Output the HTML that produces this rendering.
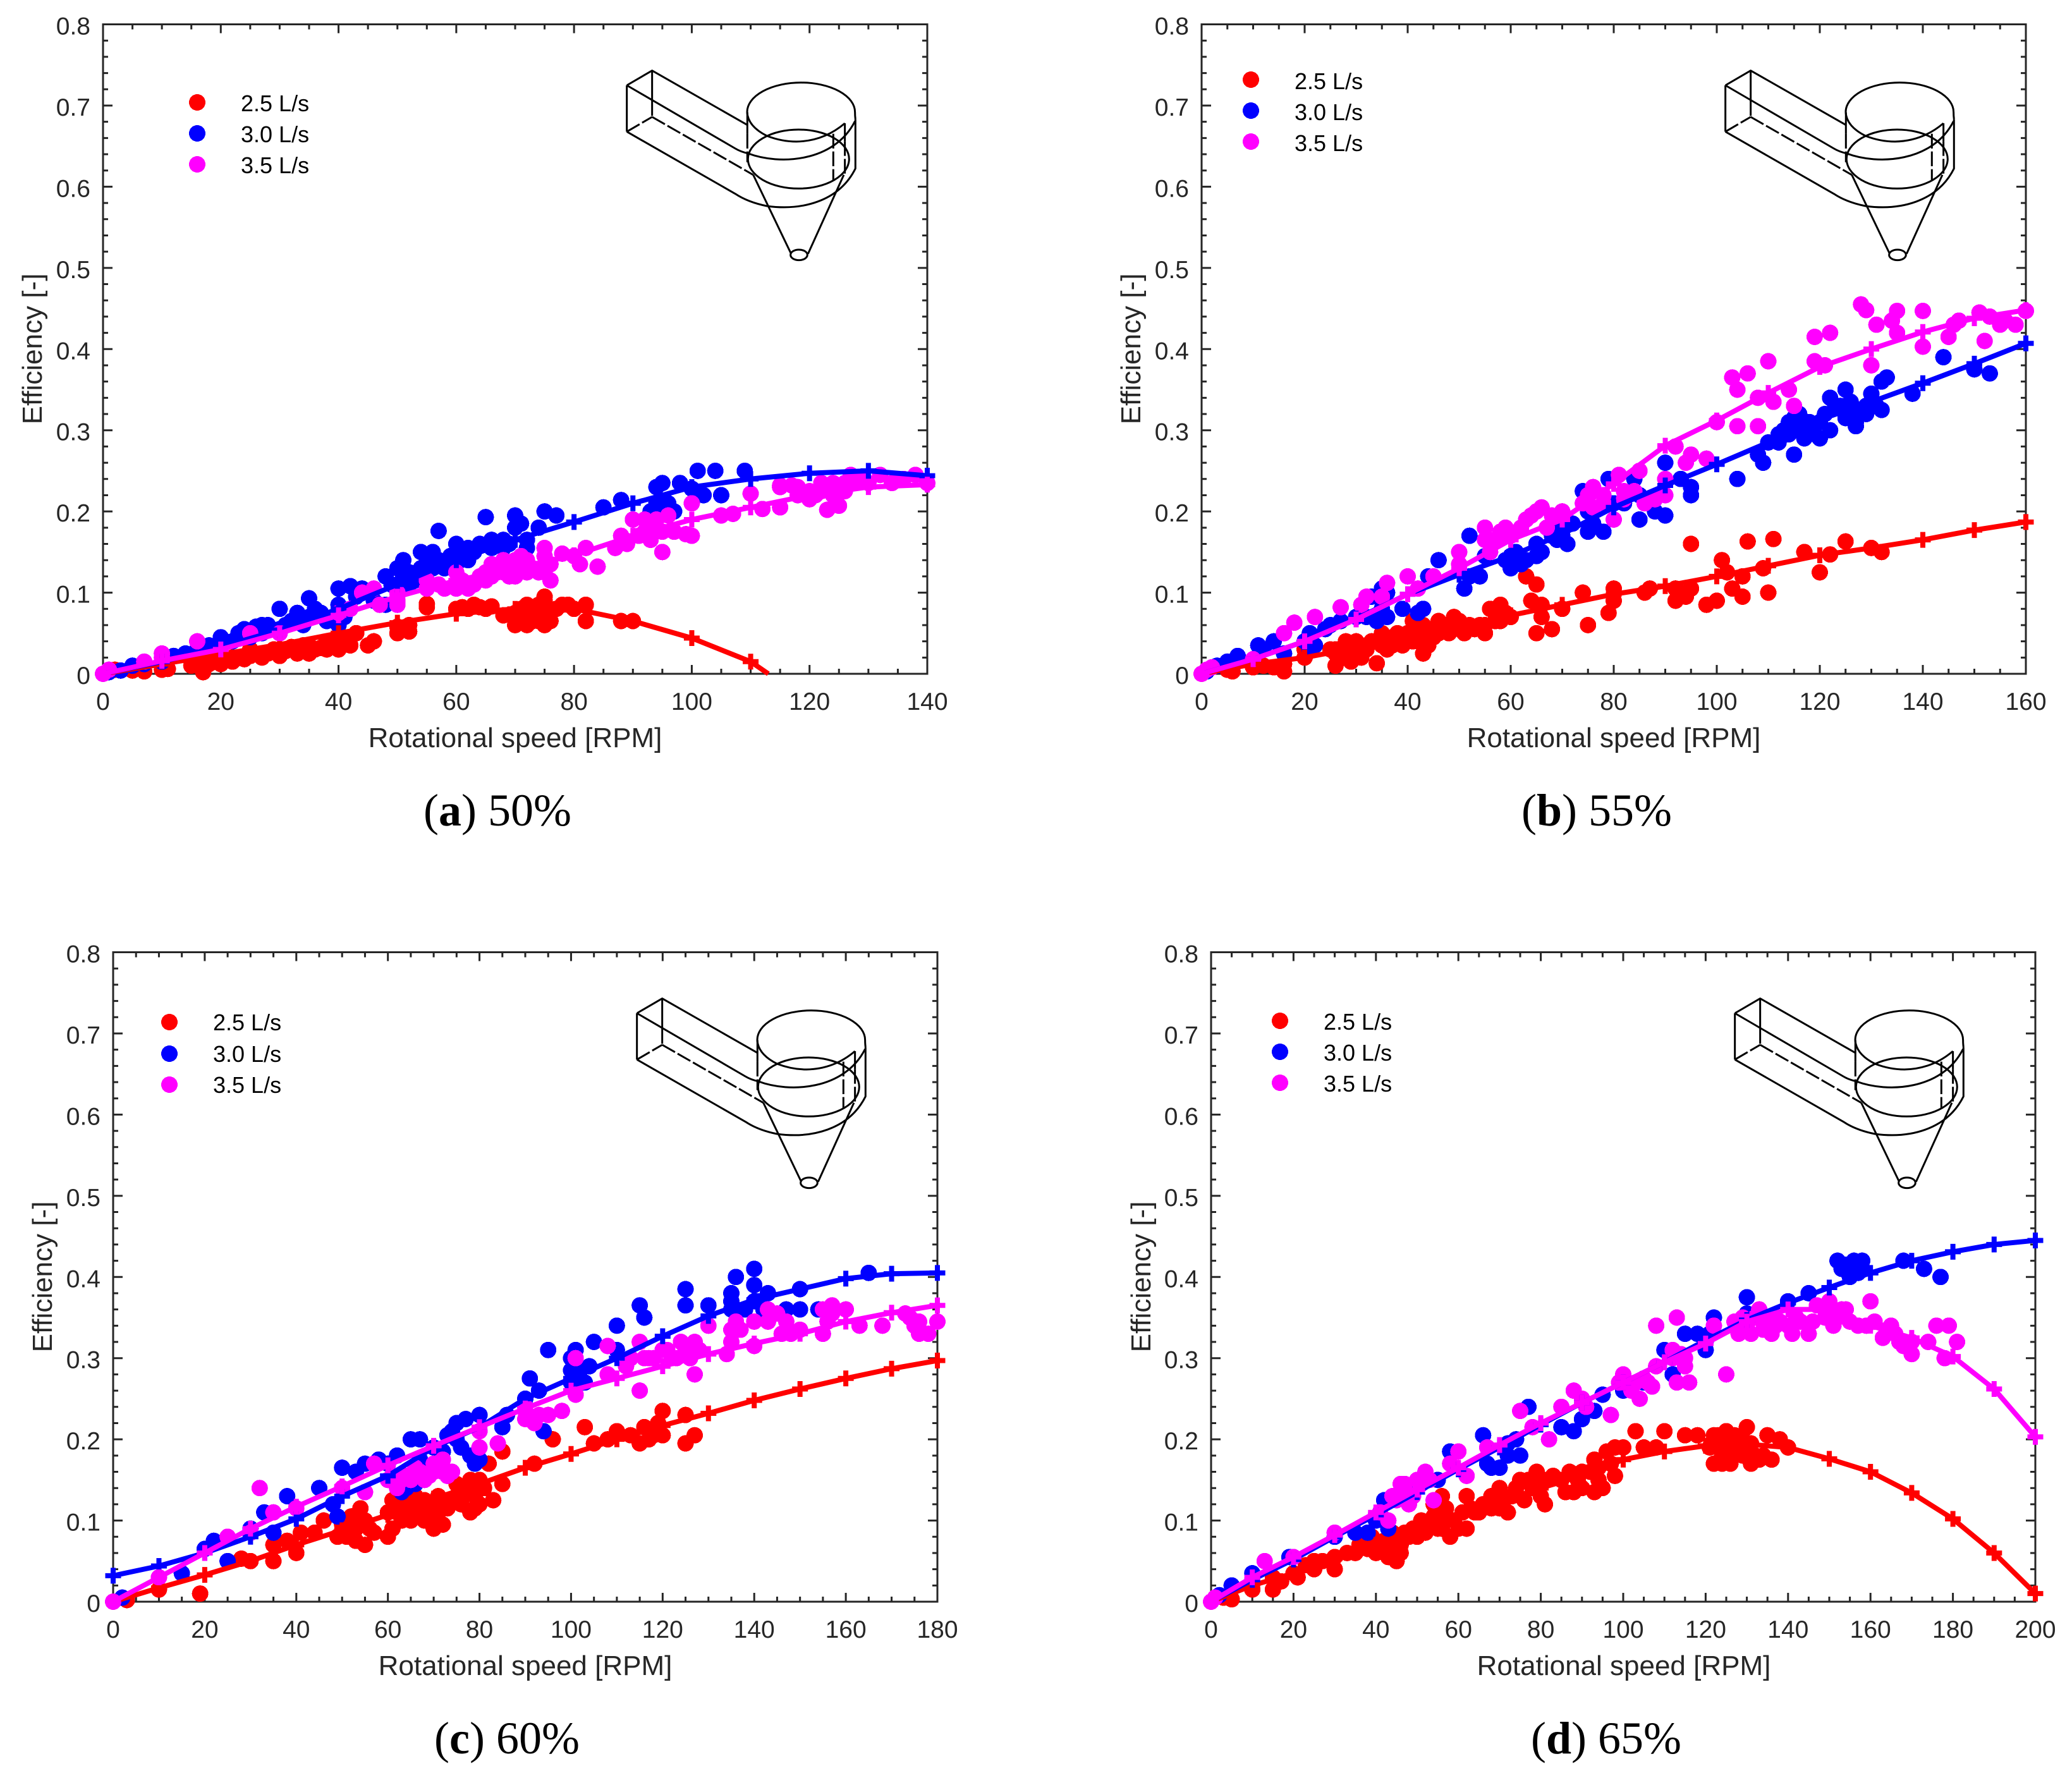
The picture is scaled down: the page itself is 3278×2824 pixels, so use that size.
<!DOCTYPE html>
<html lang="en">
<head>
<meta charset="utf-8">
<title>Efficiency vs rotational speed</title>
<style>
html,body{margin:0;padding:0;background:#fff;}
svg{display:block;}
.tick-label{font-family:"Liberation Sans",sans-serif;font-size:39px;fill:#262626;}
.axis-label{font-family:"Liberation Sans",sans-serif;font-size:44px;fill:#262626;text-anchor:middle;}
.legend-label{font-family:"Liberation Sans",sans-serif;font-size:36px;fill:#000;}
.caption{font-family:"Liberation Serif",serif;font-size:72px;fill:#000;text-anchor:middle;}
.caption .b{font-weight:bold;}
</style>
</head>
<body>
<svg id="figure" xmlns="http://www.w3.org/2000/svg" width="3278" height="2824" viewBox="0 0 3278 2824">
  <rect x="0" y="0" width="3278" height="2824" fill="#fff"/>

  <g id="panel-a">
    <text class="axis-label" x="815" y="1182">Rotational speed [RPM]</text>
    <text class="axis-label" transform="translate(66,552) rotate(-90)">Efficiency [-]</text>
    <text class="caption" x="787" y="1306">(<tspan class="b">a</tspan>) 50%</text>
    <g>
      <circle cx="312" cy="162" r="13" fill="#f00" shape-rendering="crispEdges"/>
      <text class="legend-label" x="381" y="176">2.5 L/s</text>
      <circle cx="312" cy="211" r="13" fill="#00f" shape-rendering="crispEdges"/>
      <text class="legend-label" x="381" y="225">3.0 L/s</text>
      <circle cx="312" cy="260" r="13" fill="#f0f" shape-rendering="crispEdges"/>
      <text class="legend-label" x="381" y="274">3.5 L/s</text>
    </g>
  </g>

  <g id="panel-b">
    <text class="axis-label" x="2553" y="1182">Rotational speed [RPM]</text>
    <text class="axis-label" transform="translate(1804,552) rotate(-90)">Efficiency [-]</text>
    <text class="caption" x="2526" y="1306">(<tspan class="b">b</tspan>) 55%</text>
    <g>
      <circle cx="1979" cy="126" r="13" fill="#f00" shape-rendering="crispEdges"/>
      <text class="legend-label" x="2048" y="141">2.5 L/s</text>
      <circle cx="1979" cy="175" r="13" fill="#00f" shape-rendering="crispEdges"/>
      <text class="legend-label" x="2048" y="190">3.0 L/s</text>
      <circle cx="1979" cy="224" r="13" fill="#f0f" shape-rendering="crispEdges"/>
      <text class="legend-label" x="2048" y="239">3.5 L/s</text>
    </g>
  </g>

  <g id="panel-c">
    <text class="axis-label" x="831" y="2650">Rotational speed [RPM]</text>
    <text class="axis-label" transform="translate(82,2020) rotate(-90)">Efficiency [-]</text>
    <text class="caption" x="802" y="2774">(<tspan class="b">c</tspan>) 60%</text>
    <g>
      <circle cx="268" cy="1617" r="13" fill="#f00" shape-rendering="crispEdges"/>
      <text class="legend-label" x="337" y="1630">2.5 L/s</text>
      <circle cx="268" cy="1667" r="13" fill="#00f" shape-rendering="crispEdges"/>
      <text class="legend-label" x="337" y="1680">3.0 L/s</text>
      <circle cx="268" cy="1716" r="13" fill="#f0f" shape-rendering="crispEdges"/>
      <text class="legend-label" x="337" y="1729">3.5 L/s</text>
    </g>
  </g>

  <g id="panel-d">
    <text class="axis-label" x="2569" y="2650">Rotational speed [RPM]</text>
    <text class="axis-label" transform="translate(1820,2020) rotate(-90)">Efficiency [-]</text>
    <text class="caption" x="2541" y="2774">(<tspan class="b">d</tspan>) 65%</text>
    <g>
      <circle cx="2025" cy="1615" r="13" fill="#f00" shape-rendering="crispEdges"/>
      <text class="legend-label" x="2094" y="1629">2.5 L/s</text>
      <circle cx="2025" cy="1664" r="13" fill="#00f" shape-rendering="crispEdges"/>
      <text class="legend-label" x="2094" y="1678">3.0 L/s</text>
      <circle cx="2025" cy="1713" r="13" fill="#f0f" shape-rendering="crispEdges"/>
      <text class="legend-label" x="2094" y="1727">3.5 L/s</text>
    </g>
  </g>
</svg>

<script>
const yTickValues = [0, 0.1, 0.2, 0.3, 0.4, 0.5, 0.6, 0.7, 0.8];
const yTickLabels = ['0', '0.1', '0.2', '0.3', '0.4', '0.5', '0.6', '0.7', '0.8'];
const xTicksA = [0, 20, 40, 60, 80, 100, 120, 140];
const xTicksB = [0, 20, 40, 60, 80, 100, 120, 140, 160];
const xTicksC = [0, 20, 40, 60, 80, 100, 120, 140, 160, 180];
const xTicksD = [0, 20, 40, 60, 80, 100, 120, 140, 160, 180, 200];

/* Panel a: 50% */
const fitA25 = [[0,0],[10,.012],[20,.024],[30,.036],[40,.05],[50,.063],[60,.074],[70,.08],[80,.08],[90,.065],[100,.044],[110,.015],[113,0]];
const fitA30 = [[0,0],[10,.015],[20,.033],[30,.054],[40,.08],[50,.11],[60,.14],[70,.165],[80,.187],[90,.21],[100,.23],[110,.24],[120,.247],[130,.25],[140,.244]];
const fitA35 = [[0,0],[10,.016],[20,.03],[30,.05],[40,.072],[50,.095],[60,.115],[70,.13],[80,.146],[90,.17],[100,.19],[110,.205],[120,.22],[130,.23],[140,.233]];
const dotsA25 = [[0,0],[1,.002],[2,.005],[5,.004],[7,.003],[10,.005],[11,.006],[15,.01],[16,.012],[17,.002],[18,.012],[20,.012],[20,.016],[22,.02],[22,.015],[24,.018],[25,.022],[25,.03],[27,.02],[27,.025],[28,.025],[29,.03],[30,.022],[30,.03],[31,.028],[32,.033],[33,.03],[33,.025],[34,.035],[34,.028],[35,.025],[35,.035],[36,.03],[37,.032],[38,.04],[38,.03],[39,.04],[40,.03],[40,.045],[41,.04],[42,.035],[43,.05],[45,.035],[46,.04],[50,.05],[52,.052],[50,.058],[52,.06],[55,.082],[55,.086],[60,.08],[61,.082],[62,.08],[63,.085],[64,.082],[65,.08],[66,.083],[68,.072],[70,.075],[70,.06],[71,.065],[71,.08],[71,.07],[72,.06],[72,.085],[73,.07],[73,.065],[74,.085],[74,.065],[75,.09],[75,.07],[75,.095],[75,.06],[74,.078],[76,.065],[77,.08],[78,.085],[79,.085],[80,.08],[82,.085],[82,.065],[88,.065],[90,.065]];
const dotsA30 = [[1,.002],[3,.004],[5,.01],[7,.012],[10,.015],[12,.022],[14,.025],[16,.03],[18,.035],[20,.045],[22,.04],[23,.05],[24,.055],[25,.045],[26,.058],[27,.06],[27,.05],[28,.06],[30,.08],[30,.055],[31,.06],[32,.065],[33,.068],[33,.075],[34,.06],[35,.093],[35,.07],[36,.08],[37,.075],[38,.065],[40,.105],[40,.085],[40,.06],[41,.07],[42,.108],[43,.095],[44,.105],[46,.09],[48,.12],[48,.085],[49,.11],[50,.13],[51,.12],[51,.14],[52,.11],[52,.125],[53,.115],[54,.15],[54,.13],[55,.14],[56,.15],[57,.176],[57,.14],[56,.13],[58,.13],[59,.145],[60,.16],[60,.135],[61,.15],[62,.155],[62,.14],[63,.15],[64,.16],[65,.193],[66,.165],[66,.155],[67,.16],[68,.165],[68,.155],[69,.16],[70,.195],[70,.18],[71,.185],[72,.155],[72,.165],[74,.18],[75,.2],[77,.195],[85,.205],[88,.214],[93,.2],[94,.23],[94,.21],[95,.2],[95,.235],[96,.21],[97,.2],[98,.235],[100,.228],[101,.25],[102,.22],[104,.25],[105,.22],[109,.25]];
const dotsA35 = [[0,0],[1,.005],[7,.015],[10,.025],[10,.02],[16,.04],[25,.05],[30,.05],[40,.075],[42,.08],[44,.1],[46,.105],[47,.085],[50,.09],[50,.085],[50,.1],[55,.115],[55,.105],[57,.11],[58,.105],[60,.125],[60,.105],[61,.115],[62,.105],[63,.11],[64,.12],[65,.115],[65,.125],[66,.135],[66,.12],[67,.125],[68,.125],[68,.14],[69,.12],[70,.12],[70,.14],[71,.145],[72,.125],[72,.14],[73,.13],[74,.125],[75,.155],[75,.125],[75,.145],[76,.115],[76,.135],[78,.148],[80,.145],[81,.135],[82,.155],[84,.132],[87,.155],[88,.17],[89,.16],[90,.19],[91,.17],[92,.19],[92,.175],[93,.165],[93,.18],[94,.18],[94,.19],[95,.15],[96,.195],[95,.175],[97,.175],[99,.172],[100,.21],[100,.17],[105,.195],[107,.197],[110,.222],[112,.203],[115,.205],[115,.23],[115,.232],[117,.232],[118,.23],[118,.22],[120,.225],[120,.215],[121,.22],[122,.235],[122,.225],[123,.202],[124,.235],[124,.22],[125,.207],[126,.225],[126,.235],[127,.235],[127,.245],[128,.24],[129,.24],[130,.235],[132,.245],[134,.235],[135,.24],[136,.24],[138,.245],[140,.235]];

/* Panel b: 55% */
const fitB25 = [[0,0],[10,.012],[20,.02],[30,.032],[40,.045],[50,.058],[60,.072],[70,.085],[80,.098],[90,.108],[100,.12],[110,.133],[120,.146],[130,.155],[140,.165],[150,.177],[160,.187]];
const fitB30 = [[0,0],[10,.018],[20,.04],[30,.068],[40,.098],[50,.122],[60,.145],[70,.172],[80,.205],[90,.232],[100,.258],[110,.285],[120,.313],[130,.335],[140,.358],[150,.382],[160,.407]];
const fitB35 = [[0,0],[10,.018],[20,.04],[30,.067],[40,.098],[50,.13],[60,.165],[70,.19],[80,.234],[90,.281],[100,.312],[110,.346],[120,.378],[130,.4],[140,.421],[150,.438],[160,.448]];
const dotsB25 = [[0,0],[5,.005],[6,.003],[10,.008],[12,.01],[14,.008],[16,.003],[16,.012],[20,.02],[20,.03],[25,.03],[26,.01],[26,.025],[26,.03],[27,.02],[28,.04],[28,.03],[29,.015],[30,.03],[30,.04],[30,.035],[31,.02],[32,.035],[32,.03],[33,.04],[34,.013],[34,.04],[35,.05],[35,.035],[36,.03],[36,.04],[37,.045],[37,.035],[38,.04],[38,.05],[39,.035],[39,.045],[40,.05],[41,.065],[41,.05],[41,.04],[42,.04],[42,.055],[42,.045],[43,.025],[43,.06],[43,.05],[44,.035],[44,.05],[45,.055],[45,.045],[46,.065],[46,.05],[47,.06],[47,.055],[48,.05],[48,.06],[49,.07],[49,.055],[50,.055],[50,.065],[51,.05],[52,.06],[53,.055],[54,.06],[55,.05],[55,.06],[56,.08],[57,.065],[57,.08],[58,.085],[58,.065],[59,.075],[60,.07],[63,.12],[64,.09],[65,.05],[65,.11],[66,.085],[66,.07],[68,.055],[70,.08],[74,.1],[75,.06],[79,.075],[80,.105],[80,.09],[86,.1],[87,.105],[92,.09],[92,.105],[94,.095],[95,.16],[95,.105],[98,.085],[100,.09],[101,.14],[102,.125],[103,.105],[105,.095],[105,.12],[106,.163],[109,.13],[110,.1],[111,.166],[117,.15],[120,.125],[122,.147],[125,.163],[130,.155],[132,.15]];
const dotsB30 = [[1,.003],[3,.01],[5,.015],[7,.022],[11,.035],[12,.03],[14,.04],[16,.025],[20,.04],[21,.05],[21,.03],[22,.035],[24,.055],[25,.06],[27,.065],[30,.07],[31,.085],[32,.07],[33,.095],[34,.065],[35,.09],[35,.07],[35,.08],[35,.105],[36,.1],[36,.07],[39,.08],[42,.075],[43,.08],[44,.12],[46,.14],[51,.105],[52,.17],[52,.12],[54,.12],[55,.145],[59,.14],[60,.13],[60,.145],[61,.15],[62,.135],[63,.14],[65,.145],[65,.16],[66,.15],[68,.17],[69,.165],[70,.18],[70,.17],[71,.16],[72,.185],[75,.2],[75,.175],[74,.225],[76,.185],[78,.175],[79,.24],[80,.21],[82,.21],[84,.24],[85,.22],[85,.19],[88,.2],[90,.26],[90,.195],[93,.24],[95,.23],[95,.22],[104,.24],[108,.27],[109,.26],[110,.285],[112,.285],[112,.295],[113,.3],[114,.31],[114,.295],[115,.27],[115,.3],[115,.315],[116,.32],[116,.3],[117,.29],[118,.3],[118,.31],[119,.295],[120,.29],[120,.31],[121,.32],[122,.3],[122,.34],[123,.33],[124,.33],[125,.315],[125,.35],[125,.33],[126,.32],[127,.31],[127,.305],[126,.335],[128,.32],[129,.33],[129,.32],[130,.345],[131,.33],[132,.36],[132,.325],[133,.365],[138,.345],[144,.39],[150,.375],[153,.37]];
const dotsB35 = [[0,0],[1,.005],[2,.008],[10,.018],[16,.05],[18,.063],[22,.07],[27,.082],[31,.085],[32,.095],[35,.095],[36,.112],[40,.12],[42,.105],[45,.12],[50,.135],[50,.15],[55,.18],[55,.165],[56,.15],[57,.165],[58,.175],[59,.18],[60,.17],[62,.18],[63,.19],[64,.195],[65,.2],[66,.205],[67,.18],[68,.195],[70,.2],[75,.22],[74,.21],[76,.23],[76,.205],[78,.22],[78,.21],[80,.19],[81,.245],[82,.225],[82,.215],[84,.225],[85,.25],[86,.21],[88,.215],[90,.24],[90,.22],[92,.28],[94,.26],[95,.27],[98,.265],[100,.31],[103,.365],[104,.305],[104,.35],[106,.37],[108,.34],[108,.305],[110,.385],[111,.335],[114,.35],[115,.33],[119,.415],[119,.385],[121,.38],[122,.42],[128,.455],[129,.448],[130,.38],[131,.43],[134,.435],[135,.42],[135,.447],[140,.447],[140,.403],[145,.415],[146,.43],[147,.435],[152,.41],[151,.445],[153,.44],[155,.43],[156,.435],[158,.43],[160,.447]];

/* Panel c: 60% */
const fitC25 = [[0,0],[10,.017],[20,.033],[30,.05],[40,.07],[50,.088],[60,.107],[70,.127],[80,.145],[90,.165],[100,.182],[110,.2],[120,.217],[130,.232],[140,.248],[150,.262],[160,.275],[170,.287],[180,.297]];
const fitC30 = [[0,.032],[10,.044],[20,.06],[30,.08],[40,.102],[50,.13],[60,.155],[70,.19],[80,.215],[90,.25],[100,.275],[110,.3],[120,.327],[130,.352],[140,.372],[150,.385],[160,.398],[170,.404],[180,.405]];
const fitC35 = [[0,0],[10,.03],[20,.06],[30,.09],[40,.117],[50,.142],[60,.168],[70,.192],[80,.215],[90,.238],[100,.26],[110,.275],[120,.29],[130,.305],[140,.318],[150,.33],[160,.345],[170,.356],[180,.365]];
const dotsC25 = [[0,0],[2,.005],[3,.002],[10,.015],[19,.01],[28,.053],[30,.05],[35,.05],[35,.07],[38,.075],[40,.06],[41,.085],[44,.085],[46,.1],[49,.08],[50,.095],[51,.08],[52,.105],[53,.075],[53,.09],[54,.115],[55,.07],[55,.1],[56,.09],[57,.085],[60,.08],[60,.11],[61,.125],[61,.09],[62,.11],[63,.1],[64,.12],[65,.1],[65,.115],[66,.13],[67,.11],[68,.1],[68,.125],[69,.105],[70,.09],[70,.115],[71,.13],[71,.1],[72,.095],[73,.115],[74,.125],[75,.145],[75,.13],[76,.12],[77,.135],[78,.11],[78,.15],[79,.13],[79,.115],[80,.15],[80,.12],[80,.14],[81,.14],[82,.17],[83,.125],[85,.145],[85,.185],[92,.17],[96,.2],[103,.215],[105,.195],[108,.2],[110,.21],[113,.205],[115,.195],[116,.215],[117,.2],[118,.205],[119,.22],[119,.21],[120,.205],[120,.235],[125,.195],[125,.23],[127,.205]];
const dotsC30 = [[2,.005],[10,.03],[15,.035],[20,.065],[22,.075],[25,.05],[30,.09],[33,.11],[35,.085],[38,.13],[45,.14],[48,.12],[49,.105],[50,.165],[53,.16],[55,.17],[58,.175],[60,.15],[60,.17],[62,.18],[62,.14],[63,.135],[64,.14],[65,.2],[65,.155],[66,.145],[67,.2],[67,.175],[68,.16],[70,.19],[72,.185],[73,.205],[74,.21],[75,.22],[75,.2],[76,.19],[77,.225],[78,.18],[79,.17],[80,.23],[80,.175],[85,.215],[86,.23],[90,.25],[91,.275],[93,.26],[95,.31],[94,.21],[100,.285],[100,.3],[100,.27],[101,.31],[102,.285],[103,.27],[104,.29],[105,.32],[110,.34],[110,.31],[115,.365],[116,.35],[125,.385],[125,.365],[130,.365],[135,.36],[135,.38],[135,.37],[136,.4],[138,.36],[140,.41],[140,.39],[140,.37],[141,.37],[142,.36],[143,.38],[147,.36],[150,.385],[150,.36],[154,.36],[165,.405]];
const dotsC35 = [[0,0],[10,.03],[25,.08],[30,.085],[32,.14],[35,.11],[40,.115],[50,.14],[55,.135],[57,.17],[60,.15],[61,.155],[62,.14],[63,.15],[64,.155],[65,.15],[66,.165],[67,.16],[68,.15],[69,.155],[70,.17],[70,.16],[71,.165],[72,.175],[72,.16],[73,.155],[74,.16],[80,.21],[80,.19],[84,.195],[90,.24],[90,.225],[90,.235],[92,.22],[93,.23],[95,.23],[98,.235],[101,.255],[101,.3],[108,.28],[108,.315],[112,.29],[113,.3],[115,.26],[115,.32],[116,.3],[117,.3],[118,.3],[120,.31],[121,.31],[122,.3],[123,.3],[124,.32],[125,.31],[126,.3],[127,.28],[127,.32],[128,.31],[130,.34],[134,.305],[135,.335],[135,.32],[136,.345],[137,.335],[140,.315],[140,.345],[143,.36],[143,.345],[145,.355],[146,.33],[147,.345],[148,.33],[150,.335],[155,.36],[155,.33],[156,.345],[157,.355],[157,.365],[160,.36],[163,.34],[168,.34],[173,.355],[174,.35],[175,.34],[176,.33],[176,.345],[178,.33],[180,.345]];

/* Panel d: 65% */
const fitD25 = [[0,0],[10,.02],[20,.035],[30,.053],[40,.07],[50,.09],[60,.105],[70,.123],[80,.14],[90,.155],[100,.175],[110,.185],[120,.192],[130,.194],[140,.19],[150,.176],[160,.16],[170,.134],[180,.102],[190,.06],[200,.01]];
const fitD30 = [[0,0],[10,.027],[20,.052],[30,.08],[40,.107],[50,.135],[60,.163],[70,.19],[80,.218],[90,.245],[100,.27],[110,.295],[120,.322],[130,.347],[140,.368],[150,.387],[160,.405],[170,.42],[180,.431],[190,.44],[200,.445]];
const fitD35 = [[0,0],[10,.03],[20,.055],[30,.082],[40,.11],[50,.138],[60,.165],[70,.193],[80,.22],[90,.245],[100,.27],[110,.295],[120,.318],[130,.345],[140,.36],[150,.36],[160,.34],[170,.325],[180,.302],[190,.262],[200,.203]];
const dotsD25 = [[0,0],[3,.005],[5,.003],[10,.015],[15,.015],[15,.03],[17,.025],[20,.035],[21,.03],[23,.045],[25,.04],[25,.05],[27,.05],[29,.05],[30,.055],[30,.04],[33,.06],[35,.06],[36,.07],[38,.065],[39,.08],[40,.06],[41,.07],[42,.075],[43,.055],[44,.07],[44,.085],[45,.05],[46,.07],[46,.06],[47,.085],[48,.08],[49,.09],[50,.08],[51,.1],[52,.085],[53,.095],[54,.12],[54,.105],[55,.09],[56,.13],[56,.09],[57,.1],[57,.115],[58,.08],[59,.1],[60,.09],[61,.11],[62,.09],[62,.13],[63,.115],[64,.11],[65,.11],[66,.12],[68,.115],[68,.13],[70,.14],[70,.115],[71,.125],[72,.11],[73,.13],[74,.14],[75,.15],[75,.18],[76,.125],[77,.15],[78,.14],[79,.16],[80,.13],[80,.145],[81,.12],[81,.15],[83,.155],[85,.15],[86,.135],[87,.16],[88,.135],[89,.15],[90,.14],[90,.16],[92,.16],[93,.135],[93,.175],[94,.15],[94,.165],[95,.14],[96,.185],[97,.17],[98,.155],[98,.19],[100,.19],[103,.21],[105,.19],[108,.19],[110,.21],[115,.205],[118,.205],[121,.19],[122,.17],[122,.205],[123,.205],[123,.19],[124,.18],[124,.17],[125,.21],[126,.17],[126,.195],[127,.185],[127,.205],[128,.19],[129,.18],[129,.2],[130,.215],[131,.17],[131,.195],[132,.18],[133,.175],[134,.18],[135,.205],[136,.175],[138,.2],[140,.19]];
const dotsD30 = [[2,.008],[5,.02],[10,.035],[19,.055],[30,.08],[35,.085],[38,.085],[40,.1],[41,.11],[42,.125],[43,.09],[45,.13],[47,.14],[55,.15],[58,.185],[66,.205],[67,.17],[68,.165],[70,.165],[72,.195],[72,.18],[74,.2],[75,.18],[77,.24],[85,.215],[88,.21],[90,.225],[93,.235],[95,.255],[100,.26],[105,.27],[110,.31],[112,.28],[115,.33],[118,.33],[120,.31],[120,.32],[121,.33],[122,.35],[130,.375],[130,.355],[140,.37],[145,.38],[152,.42],[153,.41],[154,.415],[155,.4],[155,.41],[156,.42],[157,.405],[158,.41],[158,.42],[168,.42],[173,.41],[177,.4]];
const dotsD35 = [[0,0],[1,.005],[13,.05],[20,.055],[30,.085],[41,.11],[43,.1],[44,.13],[45,.125],[46,.145],[47,.13],[47,.145],[48,.12],[49,.13],[50,.15],[51,.145],[52,.16],[53,.15],[54,.125],[58,.17],[60,.185],[62,.155],[67,.19],[75,.235],[78,.215],[82,.2],[85,.24],[88,.26],[90,.25],[91,.24],[97,.23],[99,.27],[100,.28],[102,.26],[103,.27],[104,.25],[105,.275],[106,.27],[107,.265],[108,.29],[108,.34],[112,.3],[112,.31],[113,.27],[113,.35],[114,.305],[115,.3],[115,.29],[116,.27],[122,.34],[125,.28],[127,.345],[128,.33],[129,.35],[130,.34],[131,.33],[132,.35],[133,.36],[134,.335],[135,.345],[136,.33],[137,.34],[138,.345],[140,.34],[141,.33],[142,.35],[143,.345],[145,.33],[146,.345],[147,.365],[149,.35],[150,.37],[151,.34],[152,.35],[153,.36],[154,.36],[155,.345],[157,.34],[159,.34],[160,.37],[161,.345],[163,.325],[164,.335],[165,.34],[166,.33],[167,.32],[168,.315],[170,.32],[170,.305],[174,.32],[176,.34],[178,.3],[179,.34],[181,.32]];

const SVGNS = 'http://www.w3.org/2000/svg';
const INK = '#262626';
const PLOT_W = 1304;
const PLOT_H = 1027.5;
const Y_MAX = 0.8;
const seriesColors = ['#ff0000', '#0000ff', '#ff00ff'];
const seriesNames = ['2-5-lps', '3-0-lps', '3-5-lps'];

function make(tag, parent, attrs) {
  const el = document.createElementNS(SVGNS, tag);
  for (const k in attrs) el.setAttribute(k, attrs[k]);
  parent.appendChild(el);
  return el;
}

function xTickSteps(max, step) {
  const out = [];
  for (let v = 0; v <= max + 1e-9; v += step) out.push(v);
  return out;
}

function drawInset(parent, dx, dy) {
  const g = make('g', parent, {
    transform: 'translate(' + (950 + dx) + ',' + (80 + dy) + ') scale(0.3333)',
    fill: 'none', stroke: '#000', 'stroke-width': 9, 'stroke-linejoin': 'round'
  });
  
  
  const solid = [
    'M125 165 L245 95 L695 352',
    'M125 165 L125 385',
    'M125 165 L640 465 Q665 480 700 488 C850 545 1110 530 1208 335',
    'M125 385 L640 680 Q700 720 790 738 C950 760 1130 720 1210 560 L1210 325',
    'M697 292 L697 395',
    'M696 292 A256 140 0 0 1 1208 292 Q1208 310 1210 325',
    'M696 292 Q700 360 790 405 Q860 432 930 432 Q1060 430 1160 345',
    'M725 590 L905 965',
    'M1155 590 L985 965',
    'M1160 345 L1160 430',
    'M245 95 L245 240'
  ];
  for (const d of solid) make('path', g, { d: d });
  make('ellipse', g, { cx: 940, cy: 515, rx: 240, ry: 140 });
  make('ellipse', g, { cx: 942, cy: 970, rx: 40, ry: 25 });
  const dashed = [
    'M125 385 L245 315',
    'M245 315 L725 590',
    'M245 240 L245 315',
    'M697 395 L697 530',
    'M1160 430 L1160 590',
    'M1105 395 L1105 615'
  ];
  for (const d of dashed) make('path', g, { d: d, 'stroke-dasharray': '70 14' });
}

function drawPanel(panelId, x0, yBase, xMax, xTicks, fits, dots) {
  const root = document.getElementById('panel-' + panelId);
  const yTop = yBase - PLOT_H;
  const xScale = function (v) { return x0 + (v / xMax) * PLOT_W; };
  const yScale = function (v) { return yBase - (v / Y_MAX) * PLOT_H; };
  const xRight = x0 + PLOT_W;

  const axes = make('g', root, { stroke: INK, 'stroke-width': 3, fill: 'none' });
  
  
  make('rect', axes, { x: x0, y: yTop, width: PLOT_W, height: PLOT_H });

  for (const v of xTickSteps(xMax, 5)) {
    const major = xTicks.indexOf(v) >= 0;
    const len = major ? 14 : 8;
    const px = xScale(v);
    make('path', axes, { d: 'M' + px + ' ' + yBase + 'V' + (yBase - len) + 'M' + px + ' ' + yTop + 'V' + (yTop + len) });
  }
  for (let i = 0; i <= 40; i++) {
    const v = i * 0.02;
    const len = i % 5 === 0 ? 15 : 8;
    const py = yScale(v);
    make('path', axes, { d: 'M' + x0 + ' ' + py + 'H' + (x0 + len) + 'M' + xRight + ' ' + py + 'H' + (xRight - len) });
  }

  xTicks.forEach(function (v) {
    const t = make('text', root, { class: 'tick-label', x: xScale(v), y: yBase + 57, 'text-anchor': 'middle' });
    t.textContent = String(v);
    
    
  });
  yTickValues.forEach(function (v, i) {
    const t = make('text', root, { class: 'tick-label', x: x0 - 20, y: yScale(v) + 16, 'text-anchor': 'end' });
    t.textContent = yTickLabels[i];
    
    
  });

  dots.forEach(function (points, s) {
    const g = make('g', root, { fill: seriesColors[s], 'shape-rendering': 'crispEdges' });
    
    
    points.forEach(function (p) {
      const c = make('circle', g, { cx: xScale(p[0]), cy: yScale(p[1]), r: 13 });
      
      
    });
  });

  fits.forEach(function (points, s) {
    const g = make('g', root, {});
    
    
    const line = make('polyline', g, {
      points: points.map(function (p) { return xScale(p[0]) + ',' + yScale(p[1]); }).join(' '),
      fill: 'none', stroke: seriesColors[s], 'stroke-width': 8, 'stroke-linejoin': 'round'
    });
    
    
    points.forEach(function (p) {
      if (p[0] % 10 !== 0) return;
      const px = xScale(p[0]);
      const py = yScale(p[1]);
      const m = make('path', g, {
        d: 'M' + (px - 12.5) + ' ' + py + 'H' + (px + 12.5) + 'M' + px + ' ' + (py - 12.5) + 'V' + (py + 12.5),
        stroke: seriesColors[s], 'stroke-width': 8, fill: 'none'
      });
      
      
    });
  });

  drawInset(root, x0 - 163, yBase - 1066);
}

drawPanel('a', 163, 1066, 140, xTicksA, [fitA25, fitA30, fitA35], [dotsA25, dotsA30, dotsA35]);
drawPanel('b', 1901, 1066, 160, xTicksB, [fitB25, fitB30, fitB35], [dotsB25, dotsB30, dotsB35]);
drawPanel('c', 179, 2534, 180, xTicksC, [fitC25, fitC30, fitC35], [dotsC25, dotsC30, dotsC35]);
drawPanel('d', 1916, 2534, 200, xTicksD, [fitD25, fitD30, fitD35], [dotsD25, dotsD30, dotsD35]);
</script>
</body>
</html>
